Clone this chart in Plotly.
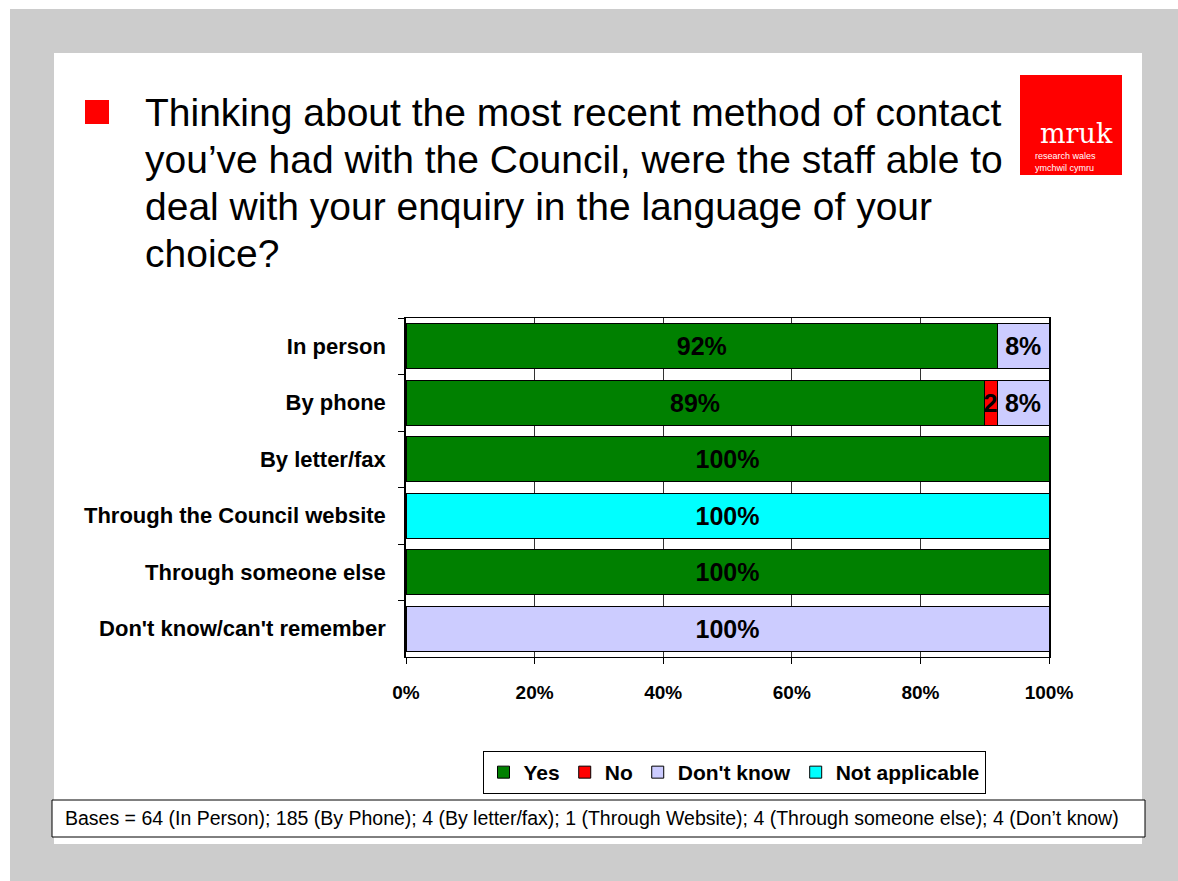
import plotly.graph_objects as go

# Survey responses by most recent method of contact
categories = [
    "In person",
    "By phone",
    "By letter/fax",
    "Through the Council website",
    "Through someone else",
    "Don't know/can't remember",
]
yes_vals = [92, 89, 100, None, 100, None]
no_vals = [None, 2, None, None, None, None]
dont_know_vals = [8, 8, None, None, None, 100]
not_applicable_vals = [None, None, None, 100, None, None]

yes_text = ["92%", "89%", "100%", "", "100%", ""]
no_text = ["", "2", "", "", "", ""]
dont_know_text = ["8%", "8%", "", "", "", "100%"]
not_applicable_text = ["", "", "", "100%", "", ""]

tick_vals = [0, 20, 40, 60, 80, 100]
tick_text = ["0%", "20%", "40%", "60%", "80%", "100%"]

title_lines = [
    "Thinking about the most recent method of contact",
    "you\u2019ve had with the Council, were the staff able to",
    "deal with your enquiry in the language of your",
    "choice?",
]
bases_note = ("Bases = 64 (In Person); 185 (By Phone); 4 (By letter/fax); 1 (Through Website); "
              "4 (Through someone else); 4 (Don\u2019t know)")

FONT = "Arial, 'Liberation Sans', sans-serif"
W, H = 1178, 881
L, R, T, B = 406, 1049, 318, 657

series = [
    ("Yes", yes_vals, yes_text, "#008000"),
    ("No", no_vals, no_text, "#FF0000"),
    ("Don't know", dont_know_vals, dont_know_text, "#CCCCFF"),
    ("Not applicable", not_applicable_vals, not_applicable_text, "#00FFFF"),
]

fig = go.Figure()
for name, vals, txt, col in series:
    fig.add_trace(go.Bar(
        name=name, y=categories, x=vals, orientation="h",
        marker=dict(color=col, line=dict(color="#000000", width=1)),
        text=txt, textposition="inside", insidetextanchor="middle",
        textfont=dict(family=FONT, size=25, color="#000000", weight="bold"),
        hoverinfo="skip",
    ))


def px(x):
    return (x - L) / (R - L)


def py(y):
    return (B - y) / (B - T)


shapes = [
    # grey frame and white slide
    dict(type="rect", xref="paper", yref="paper", x0=px(0), x1=px(W), y0=py(H), y1=py(0),
         line=dict(width=0), fillcolor="white", layer="below"),
    dict(type="rect", xref="paper", yref="paper", x0=px(10), x1=px(W), y0=py(H), y1=py(9),
         line=dict(width=0), fillcolor="#CCCCCC", layer="below"),
    dict(type="rect", xref="paper", yref="paper", x0=px(54), x1=px(1142), y0=py(844), y1=py(53),
         line=dict(width=0), fillcolor="white", layer="below"),
    # bullet
    dict(type="rect", xref="paper", yref="paper", x0=px(85), x1=px(109), y0=py(124), y1=py(100),
         line=dict(width=0), fillcolor="#FF0000"),
    # logo block
    dict(type="rect", xref="paper", yref="paper", x0=px(1020), x1=px(1122), y0=py(175), y1=py(75),
         line=dict(width=0), fillcolor="#FF0000"),
    # footnote box
    dict(type="rect", xref="paper", yref="paper", x0=px(52), x1=px(1145), y0=py(837), y1=py(800),
         line=dict(width=1, color="#000000"), fillcolor="white"),
]

annotations = []
for i, line in enumerate(title_lines):
    annotations.append(dict(
        xref="paper", yref="paper", x=px(143), y=py(89 + 47 * i),
        xanchor="left", yanchor="top", align="left", showarrow=False, text=line,
        font=dict(family=FONT, size=39, color="#000000")))

annotations += [
    dict(xref="paper", yref="paper", x=px(1076), y=py(151), xanchor="center", yanchor="bottom",
         showarrow=False, text="mruk",
         font=dict(family="'DejaVu Serif', 'Liberation Serif', serif", size=27, color="#FFFFFF")),
    dict(xref="paper", yref="paper", x=px(1033), y=py(162.5), xanchor="left", yanchor="middle",
         showarrow=False, align="left", text="research wales<br>ymchwil cymru",
         font=dict(family=FONT, size=9, color="#FFFFFF")),
    dict(xref="paper", yref="paper", x=px(63), y=py(818), xanchor="left", yanchor="middle",
         showarrow=False, text=bases_note,
         font=dict(family=FONT, size=19.5, color="#000000")),
]

fig.update_layout(
    width=W, height=H,
    margin=dict(l=L, r=W - R, t=T, b=H - B, pad=0),
    barmode="stack", barnorm="percent", bargap=0.2,
    plot_bgcolor="white", paper_bgcolor="white",
    font=dict(family=FONT, color="#000000"),
    uniformtext=dict(minsize=25, mode="show"),
    shapes=shapes, annotations=annotations,
    legend=dict(
        orientation="h", xanchor="center", yanchor="top",
        x=px(734), y=py(751),
        bordercolor="#000000", borderwidth=1, bgcolor="white",
        font=dict(family=FONT, size=21, color="#000000", weight="bold"),
        traceorder="normal", itemwidth=30, tracegroupgap=0,
    ),
    xaxis=dict(
        range=[0, 100], tickvals=tick_vals, ticktext=tick_text,
        showgrid=True, gridcolor="#333333", gridwidth=1,
        showline=True, linecolor="#000000", linewidth=1, mirror=True,
        ticks="outside", ticklen=6, tickcolor="#000000",
        ticklabelstandoff=12,
        tickfont=dict(family=FONT, size=19, color="#000000", weight="bold"),
        zeroline=False, fixedrange=True,
    ),
    yaxis=dict(
        categoryorder="array", categoryarray=categories, autorange="reversed",
        showline=True, linecolor="#000000", linewidth=1.5, mirror=True,
        ticks="outside", tickson="boundaries", ticklen=6, tickcolor="#000000",
        ticklabelstandoff=14,
        tickfont=dict(family=FONT, size=22, color="#000000", weight="bold"),
        showgrid=False, fixedrange=True,
    ),
)

fig.write_html("out.html")
